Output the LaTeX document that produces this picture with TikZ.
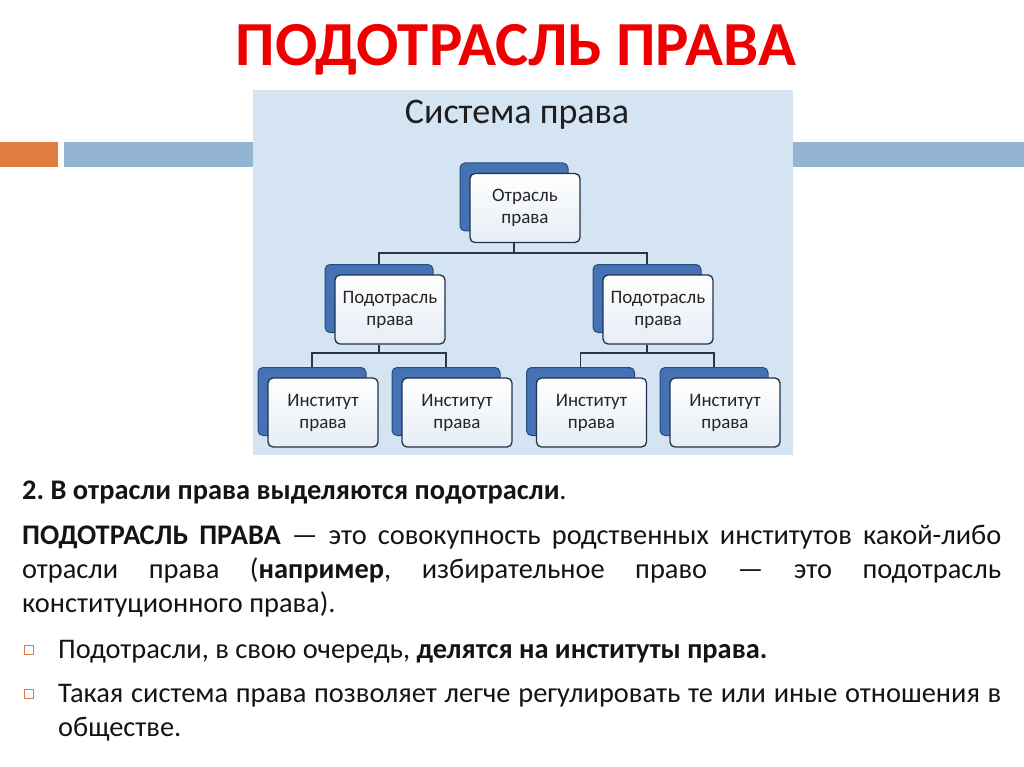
\documentclass[tikz,border=0pt]{standalone}
\usepackage{fontspec}
\setmainfont{Carlito}
\usetikzlibrary{calc}
\frenchspacing
\definecolor{titlered}{RGB}{238,0,0}
\definecolor{barblue}{RGB}{148,180,211}
\definecolor{barorange}{RGB}{224,124,62}
\definecolor{panelblue}{RGB}{213,228,243}
\definecolor{backblue}{RGB}{68,114,180}
\definecolor{backedge}{RGB}{40,74,124}
\definecolor{frontedge}{RGB}{34,50,74}
\definecolor{frontlow}{RGB}{230,237,246}
\definecolor{lineclr}{RGB}{42,54,68}
\definecolor{bodytxt}{RGB}{20,20,20}
\tikzset{
  frontbox/.style={draw=frontedge, line width=1.3pt, rounded corners=5pt,
    top color=white, bottom color=frontlow, minimum width=110pt, minimum height=69pt,
    inner sep=0pt, align=center, font=\fontsize{19}{22}\selectfont, text=black!85},
  backbox/.style={draw=backedge, line width=1pt, rounded corners=5pt, fill=backblue,
    minimum width=108pt, minimum height=68pt, inner sep=0pt},
  conn/.style={draw=lineclr, line width=1.2pt},
  bodyline/.style={anchor=base west, inner sep=0pt, font=\fontsize{28.4}{32}\selectfont, text=bodytxt},
  bulletsq/.style={draw=barorange, line width=1pt, fill=white, minimum size=9pt, inner sep=0pt}
}
\begin{document}
\begin{tikzpicture}[x=1pt,y=-1pt]
\useasboundingbox (0,0) rectangle (1024,767);
\fill[white] (0,0) rectangle (1024,767);
% bars
\fill[barorange] (0,142) rectangle (58,167);
\fill[barblue] (64,142) rectangle (253,167);
\fill[barblue] (793,142) rectangle (1024,167);
% title
\node[anchor=base, inner sep=0pt, font=\fontsize{62.7}{68}\selectfont\bfseries, text=titlered] (title) at (516,66) {ПОДОТРАСЛЬ ПРАВА};
% panel
\fill[panelblue] (253,90) rectangle (793,455);
\node[anchor=base, inner sep=0pt, font=\fontsize{36}{40}\selectfont, text=black!88] (ptitle) at (517,124) {Система права};
% boxes: back
\node[backbox] (topb) at (514,197) {};
\node[backbox] (s1b) at (379,298.5) {};
\node[backbox] (s2b) at (647,298.5) {};
\node[backbox] (i1b) at (312,401.5) {};
\node[backbox] (i2b) at (446,401.5) {};
\node[backbox] (i3b) at (580.5,401.5) {};
\node[backbox] (i4b) at (714,401.5) {};
% junctions
\coordinate (j0) at (514,253);
\coordinate (j1) at (379,353);
\coordinate (j2) at (647,353);
% front boxes
\node[frontbox] (top) at (525,208) {Отрасль\\права};
\node[frontbox] (s1) at (390,309.5) {Подотрасль\\права};
\node[frontbox] (s2) at (658,309.5) {Подотрасль\\права};
\node[frontbox] (i1) at (323,412.5) {Институт\\права};
\node[frontbox] (i2) at (457,412.5) {Институт\\права};
\node[frontbox] (i3) at (591.5,412.5) {Институт\\права};
\node[frontbox] (i4) at (725,412.5) {Институт\\права};
% connectors
\draw[conn] (topb.center |- top.south) -- (j0);
\draw[conn] (j0) -| (s1b.north);
\draw[conn] (j0) -| (s2b.north);
\draw[conn] (s1b.center |- s1.south) -- (j1);
\draw[conn] (j1) -| (i1b.north);
\draw[conn] (j1) -| (i2b.north);
\draw[conn] (s2b.center |- s2.south) -- (j2);
\draw[conn] (j2) -| (i3b.north);
\draw[conn] (j2) -| (i4b.north);
% body text
\node[bodyline] (t1) at (22,499) {\textbf{2. В отрасли права выделяются подотрасли}.};
\node[bodyline] (t2) at (22,544) {\makebox[979pt][s]{\textbf{ПОДОТРАСЛЬ ПРАВА} — это совокупность родственных институтов какой-либо}};
\node[bodyline] (t3) at (22,578) {\makebox[979pt][s]{отрасли права (\textbf{например}, избирательное право — это подотрасль}};
\node[bodyline] (t4) at (22,612) {конституционного права).};
\node[bodyline] (t5) at (58,658) {Подотрасли, в свою очередь, \textbf{делятся на институты права.}};
\node[bodyline] (t6) at (58,702) {\makebox[943pt][s]{Такая система права позволяет легче регулировать те или иные отношения в}};
\node[bodyline] (t7) at (58,736) {обществе.};
\node[bulletsq] (b1) at (29,650) {};
\node[bulletsq] (b2) at (29,694) {};
\end{tikzpicture}
\end{document}
